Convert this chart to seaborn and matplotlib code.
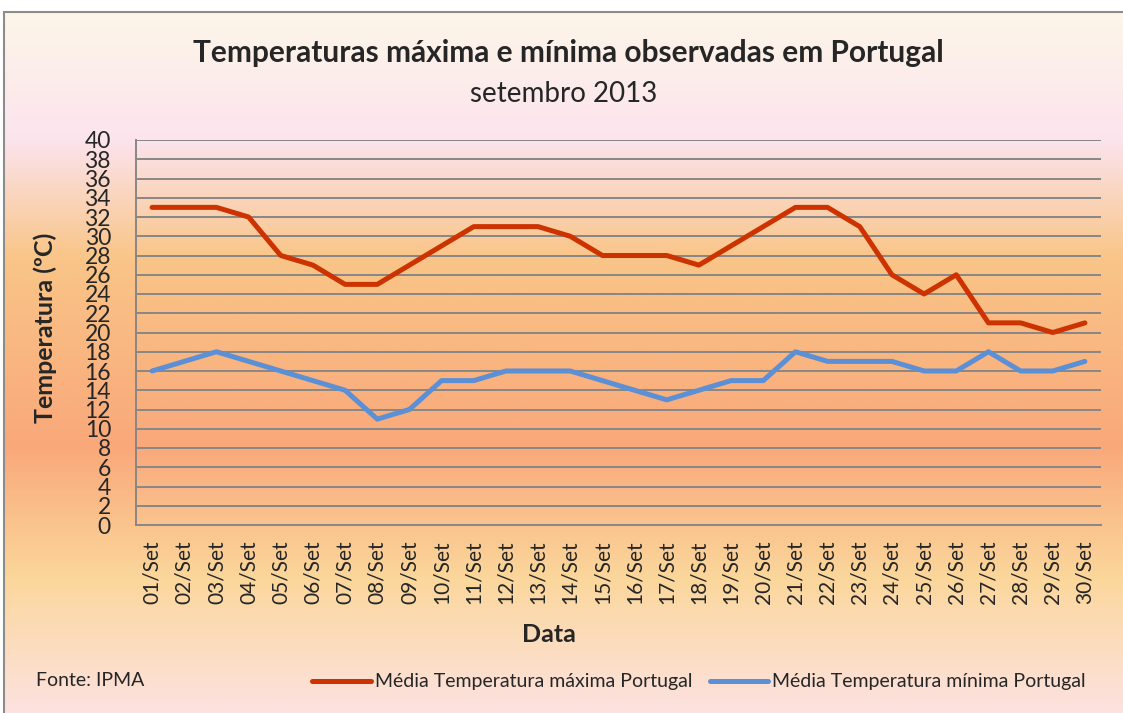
import numpy as np
import pandas as pd
import matplotlib
matplotlib.use("Agg")
import matplotlib.pyplot as plt
from matplotlib.colors import LinearSegmentedColormap
from matplotlib.patches import Rectangle
import seaborn as sns

# ===== DADOS =====
dias = [f"{d:02d}/Set" for d in range(1, 31)]
temp_max = [33, 33, 33, 32, 28, 27, 25, 25, 27, 29, 31, 31, 31, 30, 28,
            28, 28, 27, 29, 31, 33, 33, 31, 26, 24, 26, 21, 21, 20, 21]
temp_min = [16, 17, 18, 17, 16, 15, 14, 11, 12, 15, 15, 16, 16, 16, 15,
            14, 13, 14, 15, 15, 18, 17, 17, 17, 16, 16, 18, 16, 16, 17]
nome_max = "Média Temperatura máxima Portugal"
nome_min = "Média Temperatura mínima Portugal"
titulo = "Temperaturas máxima e mínima observadas em Portugal"
subtitulo = "setembro 2013"
y_ticks = list(range(0, 41, 2))

df = pd.DataFrame({
    "dia": dias * 2,
    "temp": temp_max + temp_min,
    "serie": [nome_max] * len(dias) + [nome_min] * len(dias),
})

# ===== CONFIGURAÇÕES =====
sns.set_theme(style="white")
plt.rcParams["font.family"] = ["Lato", "DejaVu Sans"]

W, H = 1123, 713
fig = plt.figure(figsize=(W / 100, H / 100), dpi=100)
fig.patch.set_facecolor("white")

# fundo em degradê (estilo Excel)
bg = fig.add_axes([4 / W, 0, 1 - 4 / W, (H - 12) / H], zorder=0)
cores = [(0.00, "#FDF6E8"), (0.18, "#FCE4EE"), (0.35, "#F9C588"),
         (0.62, "#F9A87A"), (0.81, "#FBD79C"), (1.00, "#FDE2E0")]
cmap = LinearSegmentedColormap.from_list("fundo", cores)
grad = np.linspace(0, 1, 256).reshape(-1, 1)
bg.imshow(grad, aspect="auto", cmap=cmap, extent=[0, 1, 1, 0])
bg.set_axis_off()
fig.add_artist(Rectangle((4 / W, -0.01), 1.0, (H - 12) / H + 0.01,
                         transform=fig.transFigure, fill=False,
                         edgecolor="#8C8C8C", linewidth=1.5, zorder=1))

# ===== GRÁFICO =====
ax = fig.add_axes([136 / W, 1 - 525 / H, (1101 - 136) / W, (525 - 140) / H], zorder=2)
ax.set_facecolor("none")
sns.lineplot(data=df, x="dia", y="temp", hue="serie", sort=False,
             palette=["#CC3300", "#5B8FD6"], linewidth=3.6, ax=ax)

ax.set_xlim(-0.5, len(dias) - 0.5)
ax.set_ylim(0, 40)
ax.set_yticks(y_ticks)
ax.set_yticklabels([str(t) for t in y_ticks], fontsize=16.5)
ax.yaxis.grid(True, color="#878787", linewidth=1.4)
ax.set_axisbelow(True)
ax.set_xticks(range(len(dias)))
ax.set_xticklabels(dias, rotation=90, fontsize=15)
ax.set_xticks(np.arange(-0.5, len(dias), 1), minor=True)
ax.tick_params(axis="x", which="major", length=0, pad=11)
ax.tick_params(axis="x", which="minor", length=8, width=1.4, color="#878787", direction="out")
ax.tick_params(axis="y", length=8, width=1.4, color="#878787", direction="out", pad=10)
for s in ["top", "right"]:
    ax.spines[s].set_visible(False)
for s in ["left", "bottom"]:
    ax.spines[s].set_color("#878787")
    ax.spines[s].set_linewidth(1.4)

ax.set_xlabel("")
ax.set_ylabel("")
fig.text(45 / W, 1 - 328 / H, "Temperatura (ºC)", rotation=90, fontsize=18,
         fontweight="bold", ha="center", va="center")
fig.text(549 / W, 1 - 634 / H, "Data", fontsize=18, fontweight="bold",
         ha="center", va="center")
fig.text(568 / W, 1 - 53 / H, titulo, fontsize=21.5, fontweight="bold",
         ha="center", va="center")
fig.text(564 / W, 1 - 94 / H, subtitulo, fontsize=20, ha="center", va="center")
fig.text(36 / W, 1 - 681 / H, "Fonte: IPMA", fontsize=14, ha="left", va="center")

sns.move_legend(ax, loc="center", bbox_to_anchor=(699 / W, 1 - 682 / H),
                bbox_transform=fig.transFigure, ncol=2, frameon=False, title=None,
                fontsize=14, handlelength=3.0, handletextpad=0.2, columnspacing=0.9)

fig.savefig("out.png", dpi=100)
